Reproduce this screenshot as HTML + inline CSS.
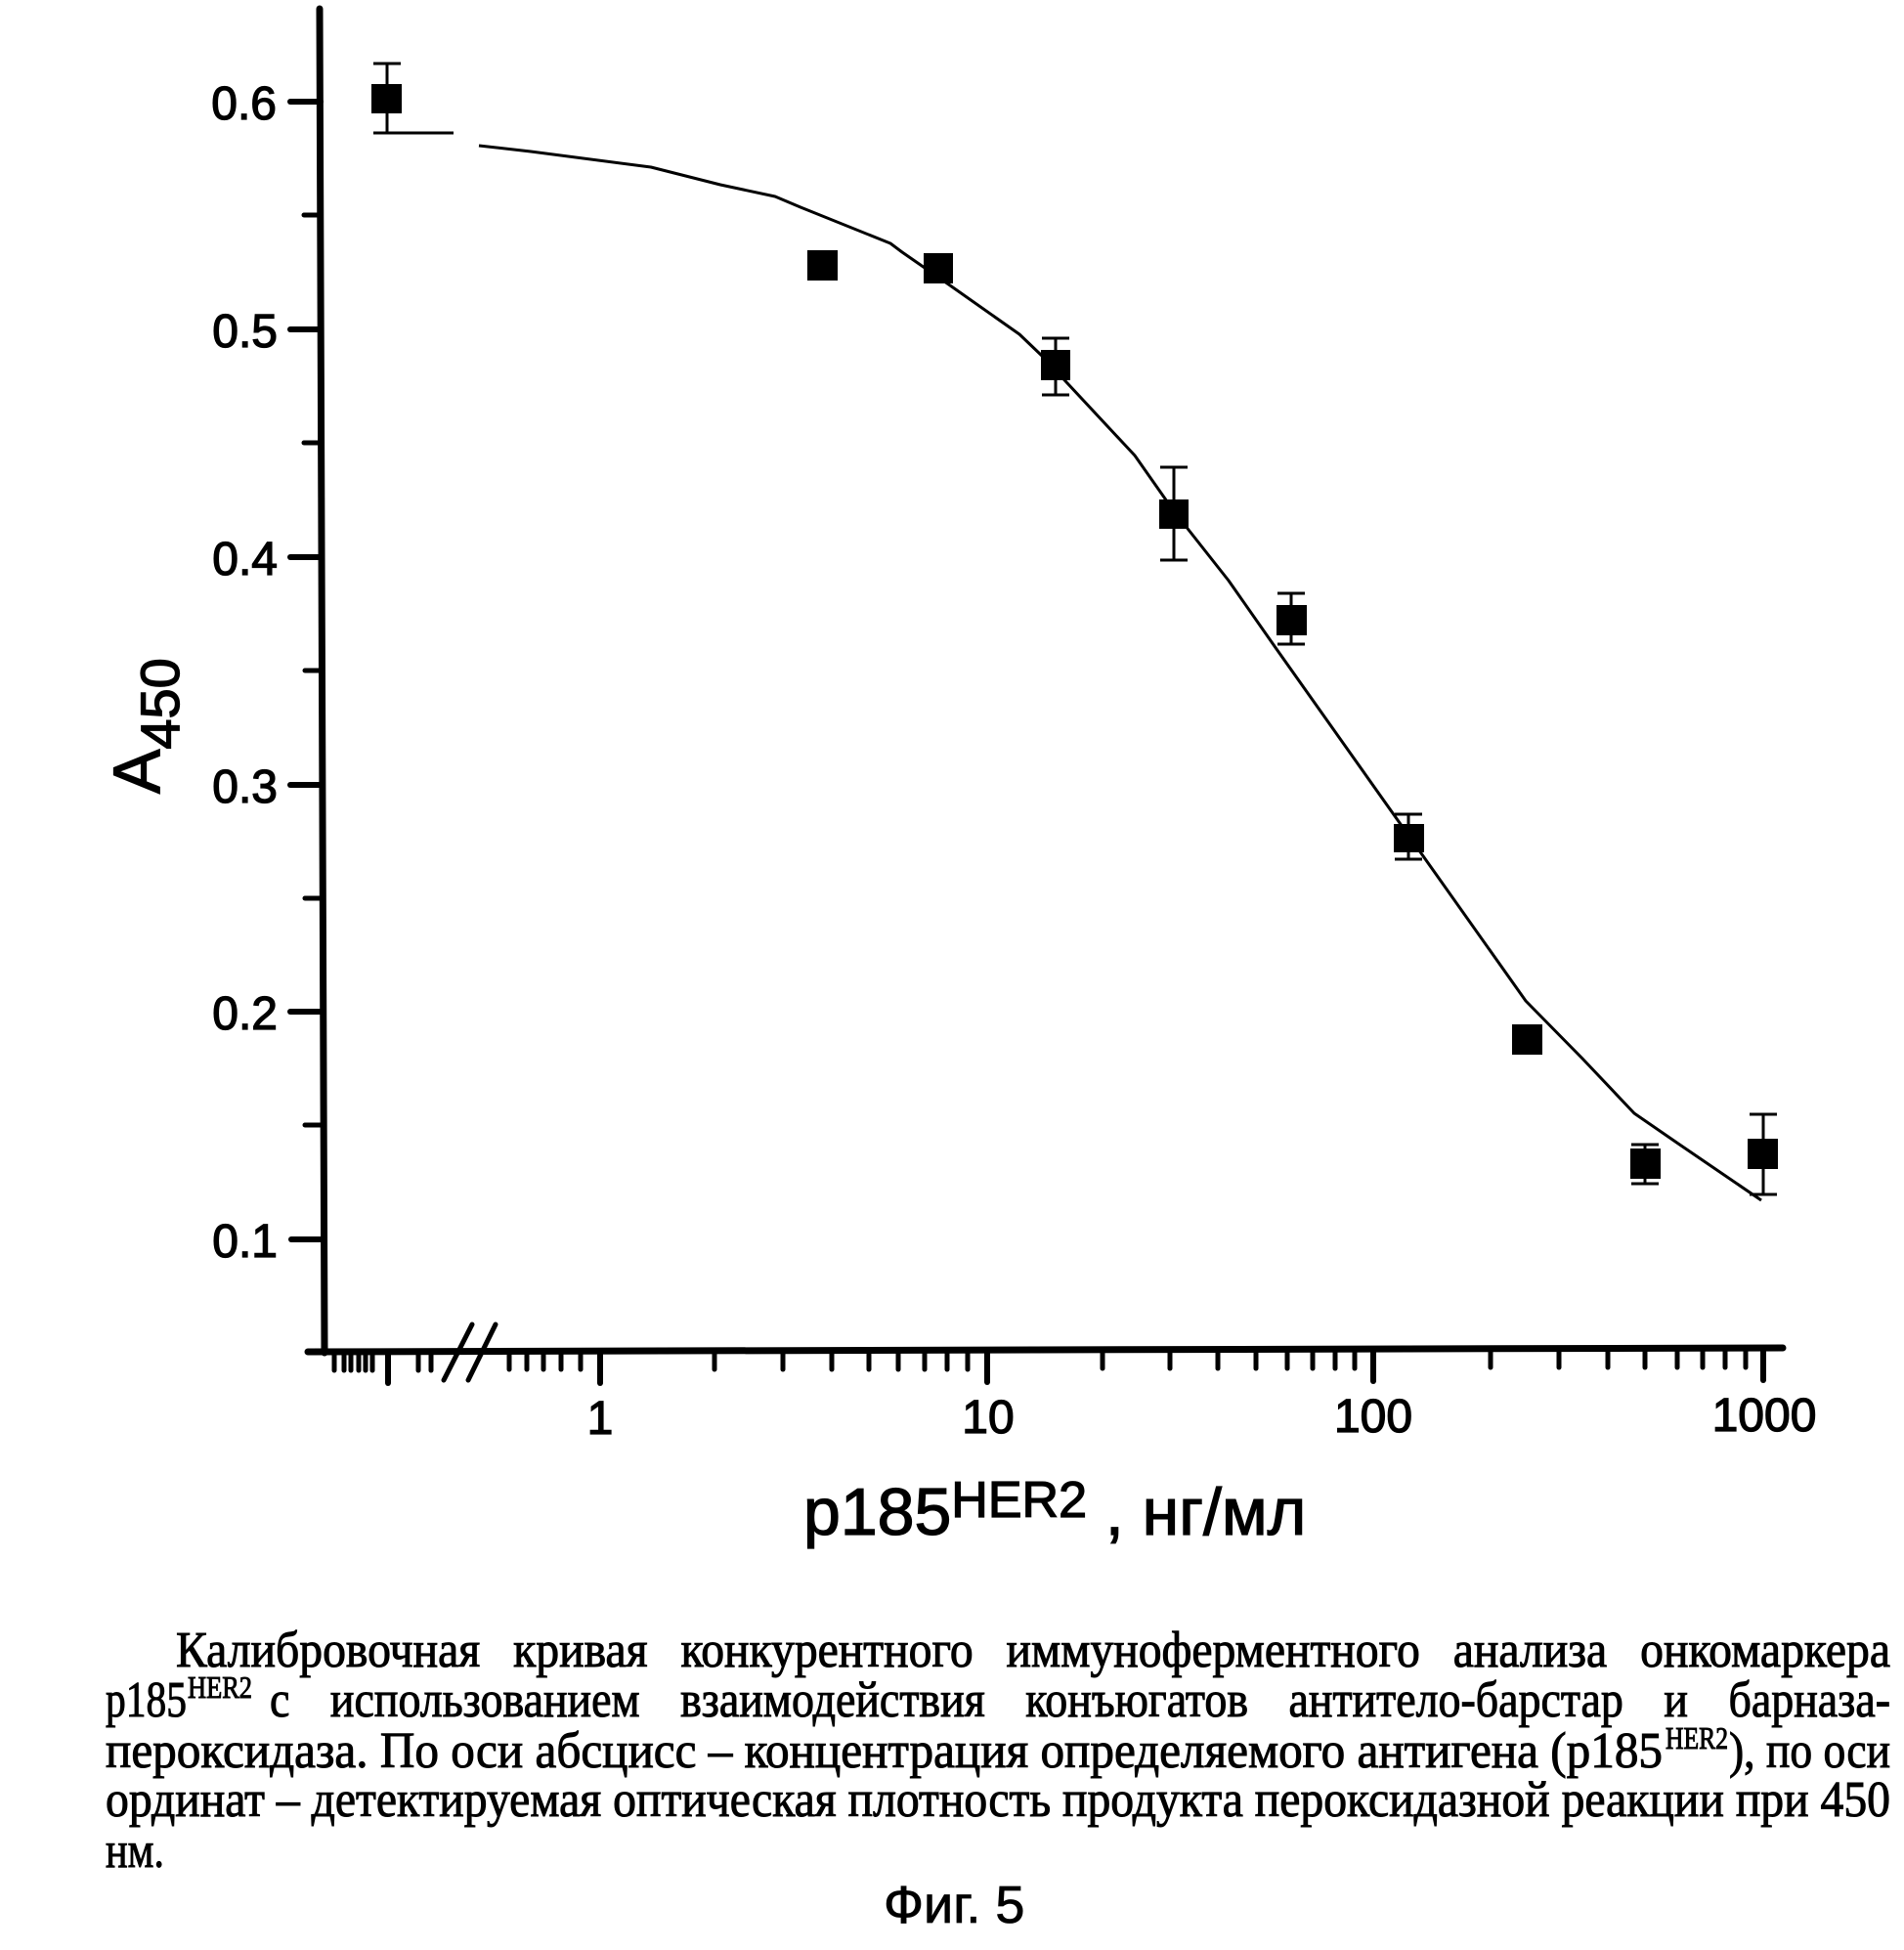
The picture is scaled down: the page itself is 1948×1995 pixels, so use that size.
<!DOCTYPE html>
<html>
<head>
<meta charset="utf-8">
<style>
  html,body{margin:0;padding:0;background:#fff;}
  svg{display:block;}
  .sans{font-family:"Liberation Sans", Arial, sans-serif;}
  .serif{font-family:"Liberation Serif", "Times New Roman", serif;}
</style>
</head>
<body>
<svg width="1948" height="1995" viewBox="0 0 1948 1995" xmlns="http://www.w3.org/2000/svg">
  <rect x="0" y="0" width="1948" height="1995" fill="#fff"/>

  <!-- Axes -->
  <g stroke="#000" stroke-linecap="round" fill="none">
    <line x1="327" y1="9" x2="332" y2="1384" stroke-width="7"/>
    <line x1="315" y1="1383" x2="1824" y2="1379" stroke-width="7"/>

    <!-- Y major ticks -->
    <g stroke-width="6">
      <line x1="297" y1="104" x2="328" y2="104"/>
      <line x1="297" y1="337" x2="328" y2="337"/>
      <line x1="297" y1="570" x2="329" y2="570"/>
      <line x1="297" y1="803" x2="330" y2="803"/>
      <line x1="297" y1="1035" x2="330" y2="1035"/>
      <line x1="298" y1="1268" x2="331" y2="1268"/>
    </g>
    <!-- Y minor ticks -->
    <g stroke-width="5">
      <line x1="311" y1="220" x2="328" y2="220"/>
      <line x1="311" y1="453" x2="329" y2="453"/>
      <line x1="312" y1="686" x2="329" y2="686"/>
      <line x1="312" y1="919" x2="330" y2="919"/>
      <line x1="312" y1="1151" x2="331" y2="1151"/>
    </g>

    <!-- X minor ticks -->
    <g stroke-width="5">
      <line x1="342" y1="1383" x2="342" y2="1402"/>
      <line x1="352" y1="1383" x2="352" y2="1402"/>
      <line x1="359" y1="1383" x2="359" y2="1402"/>
      <line x1="367" y1="1383" x2="367" y2="1402"/>
      <line x1="374" y1="1383" x2="374" y2="1402"/>
      <line x1="381" y1="1383" x2="381" y2="1402"/>
      <line x1="428" y1="1383" x2="428" y2="1402"/>
      <line x1="441" y1="1383" x2="441" y2="1402"/>
      <line x1="521" y1="1382" x2="521" y2="1401"/>
      <line x1="539" y1="1382" x2="539" y2="1401"/>
      <line x1="556" y1="1382" x2="556" y2="1401"/>
      <line x1="574" y1="1382" x2="574" y2="1401"/>
      <line x1="594" y1="1382" x2="594" y2="1401"/>

      <line x1="731" y1="1382" x2="731" y2="1401"/>
      <line x1="801" y1="1382" x2="801" y2="1401"/>
      <line x1="851" y1="1382" x2="851" y2="1401"/>
      <line x1="889" y1="1382" x2="889" y2="1401"/>
      <line x1="919" y1="1382" x2="919" y2="1401"/>
      <line x1="946" y1="1382" x2="946" y2="1401"/>
      <line x1="969" y1="1382" x2="969" y2="1401"/>
      <line x1="990" y1="1382" x2="990" y2="1401"/>

      <line x1="1128" y1="1381" x2="1128" y2="1400"/>
      <line x1="1197" y1="1381" x2="1197" y2="1400"/>
      <line x1="1246" y1="1381" x2="1246" y2="1400"/>
      <line x1="1285" y1="1381" x2="1285" y2="1400"/>
      <line x1="1317" y1="1381" x2="1317" y2="1400"/>
      <line x1="1343" y1="1381" x2="1343" y2="1400"/>
      <line x1="1366" y1="1381" x2="1366" y2="1400"/>
      <line x1="1386" y1="1381" x2="1386" y2="1400"/>

      <line x1="1525" y1="1380" x2="1525" y2="1399"/>
      <line x1="1595" y1="1380" x2="1595" y2="1399"/>
      <line x1="1645" y1="1380" x2="1645" y2="1399"/>
      <line x1="1683" y1="1380" x2="1683" y2="1399"/>
      <line x1="1716" y1="1380" x2="1716" y2="1399"/>
      <line x1="1742" y1="1380" x2="1742" y2="1399"/>
      <line x1="1765" y1="1380" x2="1765" y2="1399"/>
      <line x1="1786" y1="1380" x2="1786" y2="1399"/>
    </g>
    <!-- X major ticks -->
    <g stroke-width="6">
      <line x1="397" y1="1383" x2="397" y2="1415"/>
      <line x1="614" y1="1382" x2="614" y2="1415"/>
      <line x1="1010" y1="1382" x2="1010" y2="1414"/>
      <line x1="1405" y1="1381" x2="1405" y2="1413"/>
      <line x1="1804" y1="1380" x2="1804" y2="1412"/>
    </g>
  </g>

  <!-- Axis break slashes -->
  <g stroke="#000" stroke-width="5" stroke-linecap="round">
    <line x1="454" y1="1412" x2="483" y2="1355"/>
    <line x1="479" y1="1412" x2="507" y2="1355"/>
  </g>

  <!-- Y tick labels -->
  <g class="sans" font-size="48" text-anchor="end" fill="#000" stroke="#000" stroke-width="1.3">
    <text x="283" y="122">0.6</text>
    <text x="284" y="355">0.5</text>
    <text x="284" y="588">0.4</text>
    <text x="284" y="821">0.3</text>
    <text x="284" y="1053">0.2</text>
    <text x="284" y="1286">0.1</text>
  </g>

  <!-- X tick labels -->
  <g class="sans" font-size="48" text-anchor="middle" fill="#000" stroke="#000" stroke-width="1.3">
    <text x="614" y="1467">1</text>
    <text x="1011" y="1466">10</text>
    <text x="1405" y="1465">100</text>
    <text x="1805" y="1464">1000</text>
  </g>

  <!-- Y axis title -->
  <text class="sans" font-size="68" fill="#000" stroke="#000" stroke-width="1.3" transform="translate(163,812) rotate(-90)">A<tspan font-size="56" dy="20">450</tspan></text>

  <!-- X axis title -->
  <text class="sans" font-size="68" fill="#000" stroke="#000" stroke-width="1.3" x="822" y="1570">p185<tspan font-size="52" dy="-18">HER2</tspan><tspan dy="18"> , нг/мл</tspan></text>

  <!-- Fitted curve -->
  <g stroke="#000" stroke-width="3" fill="none" stroke-linejoin="round">
    <line x1="395" y1="136" x2="464" y2="136"/>
    <polyline points="490,149 543,155 666,171 737,189 793,201 819,212 911,249 923,258 972,292 1043,342 1066,364 1092,392 1161,466 1201,523 1257,594 1306,664 1442,856 1561,1024 1619,1083 1672,1139 1717,1170 1802,1228"/>
  </g>

  <!-- Error bars -->
  <g stroke="#000" stroke-width="3" fill="none">
    <line x1="396" y1="65" x2="396" y2="136"/>
    <line x1="382" y1="65" x2="410" y2="65"/>
    <line x1="382" y1="136" x2="410" y2="136"/>

    <line x1="1080" y1="346" x2="1080" y2="404"/>
    <line x1="1066" y1="346" x2="1094" y2="346"/>
    <line x1="1066" y1="404" x2="1094" y2="404"/>

    <line x1="1201" y1="478" x2="1201" y2="573"/>
    <line x1="1187" y1="478" x2="1215" y2="478"/>
    <line x1="1187" y1="573" x2="1215" y2="573"/>

    <line x1="1321" y1="607" x2="1321" y2="659"/>
    <line x1="1307" y1="607" x2="1335" y2="607"/>
    <line x1="1307" y1="659" x2="1335" y2="659"/>

    <line x1="1441" y1="833" x2="1441" y2="879"/>
    <line x1="1427" y1="833" x2="1455" y2="833"/>
    <line x1="1427" y1="879" x2="1455" y2="879"/>

    <line x1="1683" y1="1171" x2="1683" y2="1211"/>
    <line x1="1669" y1="1171" x2="1697" y2="1171"/>
    <line x1="1669" y1="1211" x2="1697" y2="1211"/>

    <line x1="1804" y1="1140" x2="1804" y2="1222"/>
    <line x1="1790" y1="1140" x2="1818" y2="1140"/>
    <line x1="1790" y1="1222" x2="1818" y2="1222"/>
  </g>

  <!-- Data markers -->
  <g fill="#000">
    <rect x="380" y="86" width="31" height="30"/>
    <rect x="826" y="256" width="31" height="31"/>
    <rect x="945" y="259" width="30" height="31"/>
    <rect x="1065" y="358" width="30" height="31"/>
    <rect x="1186" y="511" width="30" height="30"/>
    <rect x="1306" y="619" width="31" height="31"/>
    <rect x="1426" y="843" width="31" height="29"/>
    <rect x="1547" y="1048" width="31" height="31"/>
    <rect x="1668" y="1175" width="31" height="31"/>
    <rect x="1788" y="1165" width="31" height="31"/>
  </g>

  <!-- Caption -->
  <g class="serif" font-size="52" fill="#000" stroke="#000" stroke-width="1">
    <text x="180" y="1705" textLength="1754" lengthAdjust="spacingAndGlyphs" word-spacing="24">Калибровочная кривая конкурентного иммуноферментного анализа онкомаркера</text>

    <text x="108" y="1756" textLength="83" lengthAdjust="spacingAndGlyphs">p185</text>
    <text x="192" y="1737" font-size="32" textLength="66" lengthAdjust="spacingAndGlyphs">HER2</text>
    <text x="276" y="1756" textLength="1658" lengthAdjust="spacingAndGlyphs" word-spacing="34">с использованием взаимодействия конъюгатов антитело-барстар и барназа-</text>

    <text x="108" y="1808" textLength="1593" lengthAdjust="spacingAndGlyphs">пероксидаза. По оси абсцисс – концентрация определяемого антигена (p185</text>
    <text x="1704" y="1789" font-size="32" textLength="64" lengthAdjust="spacingAndGlyphs">HER2</text>
    <text x="1769" y="1808" textLength="165" lengthAdjust="spacingAndGlyphs">), по оси</text>

    <text x="108" y="1858" textLength="1826" lengthAdjust="spacingAndGlyphs">ординат – детектируемая оптическая плотность продукта пероксидазной реакции при 450</text>

    <text x="108" y="1910" textLength="60" lengthAdjust="spacingAndGlyphs">нм.</text>
  </g>

  <text class="sans" font-size="54" fill="#000" stroke="#000" stroke-width="0.8" x="904" y="1967">Фиг. 5</text>
</svg>
</body>
</html>
